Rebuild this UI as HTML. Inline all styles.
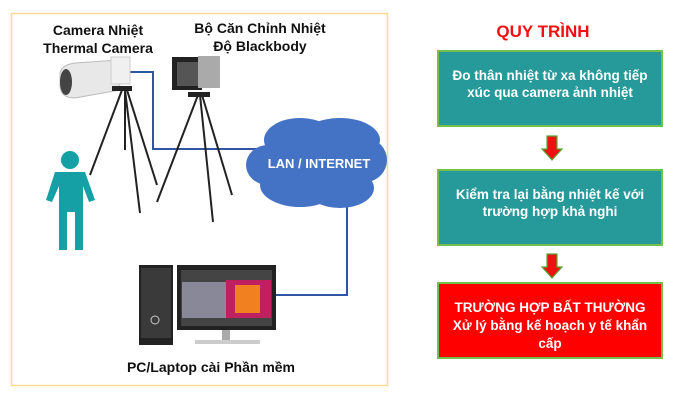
<!DOCTYPE html>
<html><head><meta charset="utf-8"><style>
body{margin:0;width:681px;height:400px;background:#fff;overflow:hidden;font-family:"Liberation Sans",sans-serif}
</style></head><body>
<svg width="681" height="400" xmlns="http://www.w3.org/2000/svg" font-family="Liberation Sans, sans-serif" font-weight="bold">
<rect x="11.5" y="13.5" width="376" height="372" fill="#fff" stroke="#f9dc92" stroke-width="1.5"/>
<g font-size="14" fill="#111" text-anchor="middle">
<text x="98" y="35">Camera Nhiệt</text>
<text x="98" y="53">Thermal Camera</text>
<text x="260" y="33">Bộ Căn Chỉnh Nhiệt</text>
<text x="260" y="51">Độ Blackbody</text>
<text x="211" y="372">PC/Laptop cài Phần mềm</text>
</g>
<polyline points="130,72 153,72 153,149 262,149" fill="none" stroke="#2f55a4" stroke-width="2"/>
<polyline points="347,198 347,295 276,295" fill="none" stroke="#2f55a4" stroke-width="2"/>
<g fill="#4472c4">
<ellipse cx="300" cy="140" rx="36" ry="22"/><ellipse cx="340" cy="140" rx="40" ry="22"/>
<ellipse cx="268" cy="165" rx="22" ry="20"/><ellipse cx="365" cy="160" rx="22" ry="22"/>
<ellipse cx="300" cy="185" rx="40" ry="22"/><ellipse cx="340" cy="188" rx="34" ry="20"/>
<ellipse cx="316" cy="163" rx="55" ry="30"/>
</g>
<text x="319" y="168" font-size="13" fill="#fff" text-anchor="middle">LAN / INTERNET</text>
<path d="M60,75 Q60,65 75,63 L118,60 L120,90 L75,98 Q60,98 60,85Z" fill="#e8e8e8" stroke="#bbb"/>
<ellipse cx="66" cy="82" rx="6" ry="13" fill="#444"/>
<rect x="111" y="57" width="19" height="27" fill="#f0f0f0" stroke="#ccc"/>
<g stroke="#222" stroke-width="2" fill="none">
<line x1="122" y1="90" x2="90" y2="175"/><line x1="125" y1="90" x2="140" y2="213"/><line x1="127" y1="90" x2="157" y2="185"/>
<line x1="125" y1="90" x2="125" y2="150"/>
</g>
<rect x="112" y="86" width="20" height="5" fill="#222"/>
<rect x="172" y="57" width="30" height="33" fill="#222"/>
<rect x="177" y="62" width="22" height="24" fill="#555"/>
<rect x="198" y="56" width="22" height="32" fill="#aaa"/>
<g stroke="#222" stroke-width="2" fill="none">
<line x1="198" y1="95" x2="157" y2="202"/><line x1="200" y1="95" x2="213" y2="222"/><line x1="202" y1="95" x2="232" y2="195"/>
</g>
<rect x="188" y="92" width="22" height="5" fill="#222"/>
<g fill="#15a0a5">
<circle cx="70" cy="160" r="9"/>
<path d="M55,172 L85,172 L95,200 L89,202 L83,186 L83,250 L75,250 L75,212 L67,212 L67,250 L59,250 L59,186 L52,202 L46,200Z"/>
</g>
<rect x="139" y="265" width="34" height="80" fill="#222"/>
<rect x="141" y="268" width="30" height="70" fill="#3a3a3a"/>
<circle cx="155" cy="320" r="4" fill="none" stroke="#ccc"/>
<rect x="177" y="265" width="99" height="65" fill="#222"/>
<rect x="181" y="270" width="91" height="56" fill="#444"/>
<rect x="182" y="282" width="44" height="36" fill="#889"/>
<rect x="226" y="280" width="45" height="38" fill="#c02060"/>
<rect x="235" y="285" width="25" height="28" fill="#f08020"/>
<rect x="222" y="330" width="8" height="10" fill="#aaa"/>
<rect x="195" y="340" width="65" height="4" fill="#ccc"/>
<text x="543" y="37" font-size="17" fill="#ee1111" text-anchor="middle">QUY TRÌNH</text>
<rect x="438" y="51" width="224" height="75" fill="#26999a" stroke="#72c04a" stroke-width="2"/>
<rect x="438" y="170" width="224" height="75" fill="#26999a" stroke="#72c04a" stroke-width="2"/>
<rect x="438" y="283" width="224" height="75" fill="#ff0000" stroke="#72c04a" stroke-width="2"/>
<g font-size="13.5" fill="#fff" text-anchor="middle">
<text x="550" y="80">Đo thân nhiệt từ xa không tiếp</text>
<text x="550" y="97">xúc qua camera ảnh nhiệt</text>
<text x="550" y="199">Kiểm tra lại bằng nhiệt kế với</text>
<text x="550" y="216">trường hợp khả nghi</text>
<text x="550" y="312">TRƯỜNG HỢP BẤT THƯỜNG</text>
<text x="550" y="330">Xử lý bằng kế hoạch y tế khẩn</text>
<text x="550" y="348">cấp</text>
</g>
<g fill="#ee1111" stroke="#5aa832" stroke-width="1.2">
<path d="M547,136 L557,136 L557,149 L562,149 L552,160 L542,149 L547,149Z"/>
<path d="M547,254 L557,254 L557,267 L562,267 L552,278 L542,267 L547,267Z"/>
</g>
</svg>
</body></html>
